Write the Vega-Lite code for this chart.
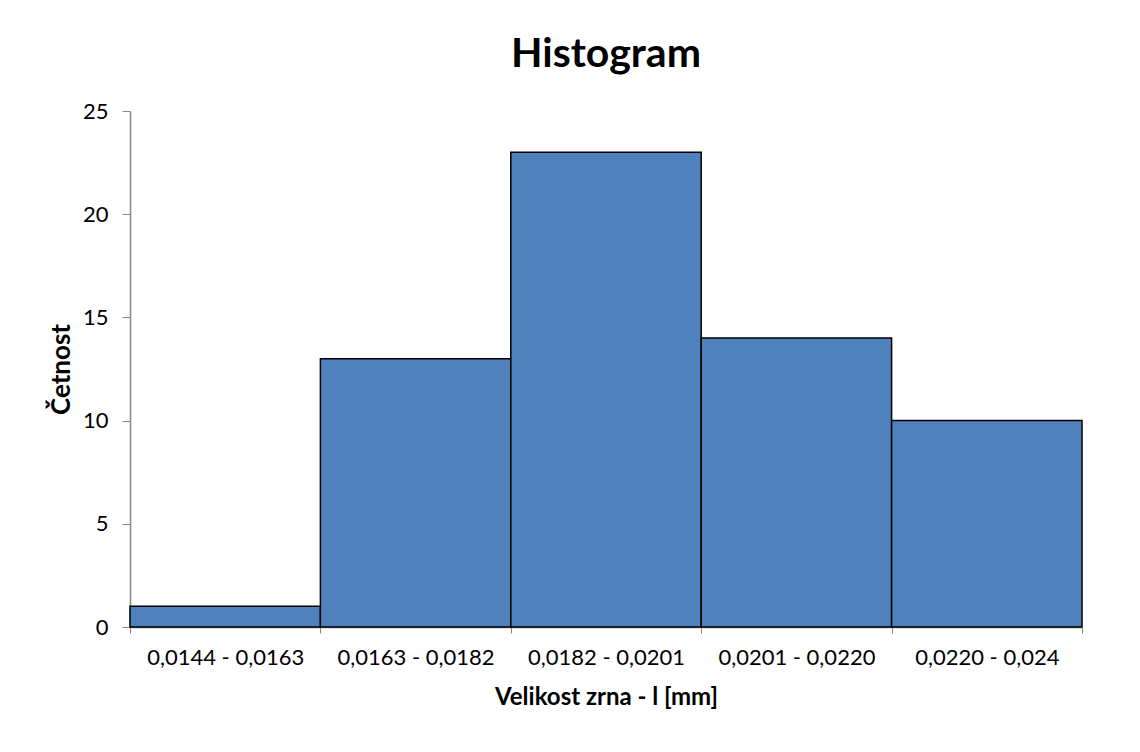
{
  "$schema": "https://vega.github.io/schema/vega-lite/v6.json",
  "autosize": {"type": "none"},
  "padding": {"left": 130, "top": 111, "right": 58, "bottom": 125},
  "width": 952,
  "height": 516,
  "background": "white",
  "config": {
    "font": "Lato",
    "view": {"stroke": null},
    "axis": {"grid": false, "domainColor": "#868686", "tickColor": "#868686", "labelColor": "black", "titleColor": "black", "labelFont": "Lato", "titleFont": "Lato"}
  },
  "title": {
    "text": "Histogram",
    "font": "Lato",
    "fontSize": 41,
    "fontWeight": "bold",
    "color": "black",
    "anchor": "middle",
    "baseline": "alphabetic",
    "offset": -8
  },
  "data": {
    "values": [
      {"bin": "0,0144 - 0,0163", "count": 1},
      {"bin": "0,0163 - 0,0182", "count": 13},
      {"bin": "0,0182 - 0,0201", "count": 23},
      {"bin": "0,0201 - 0,0220", "count": 14},
      {"bin": "0,0220 - 0,024", "count": 10}
    ]
  },
  "mark": {"type": "bar", "color": "#4F81BD", "stroke": "black", "strokeWidth": 1.5},
  "encoding": {
    "x": {
      "field": "bin",
      "type": "nominal",
      "sort": null,
      "scale": {"paddingInner": 0, "paddingOuter": 0},
      "axis": {
        "title": "Velikost zrna - l [mm]",
        "titleFontSize": 24,
        "titleFontWeight": "bold",
        "titlePadding": 17,
        "labelAngle": 0,
        "labelFontSize": 22,
        "labelPadding": 14,
        "tickBand": "extent",
        "tickSize": 6,
        "domainWidth": 1.5
      }
    },
    "y": {
      "field": "count",
      "type": "quantitative",
      "scale": {"domain": [0, 25]},
      "axis": {
        "title": "Četnost",
        "titleFontSize": 26,
        "titleFontWeight": "bold",
        "titlePadding": 8,
        "values": [0, 5, 10, 15, 20, 25],
        "labelFontSize": 22,
        "labelPadding": 14,
        "tickSize": 8,
        "domainWidth": 1.5
      }
    }
  }
}
